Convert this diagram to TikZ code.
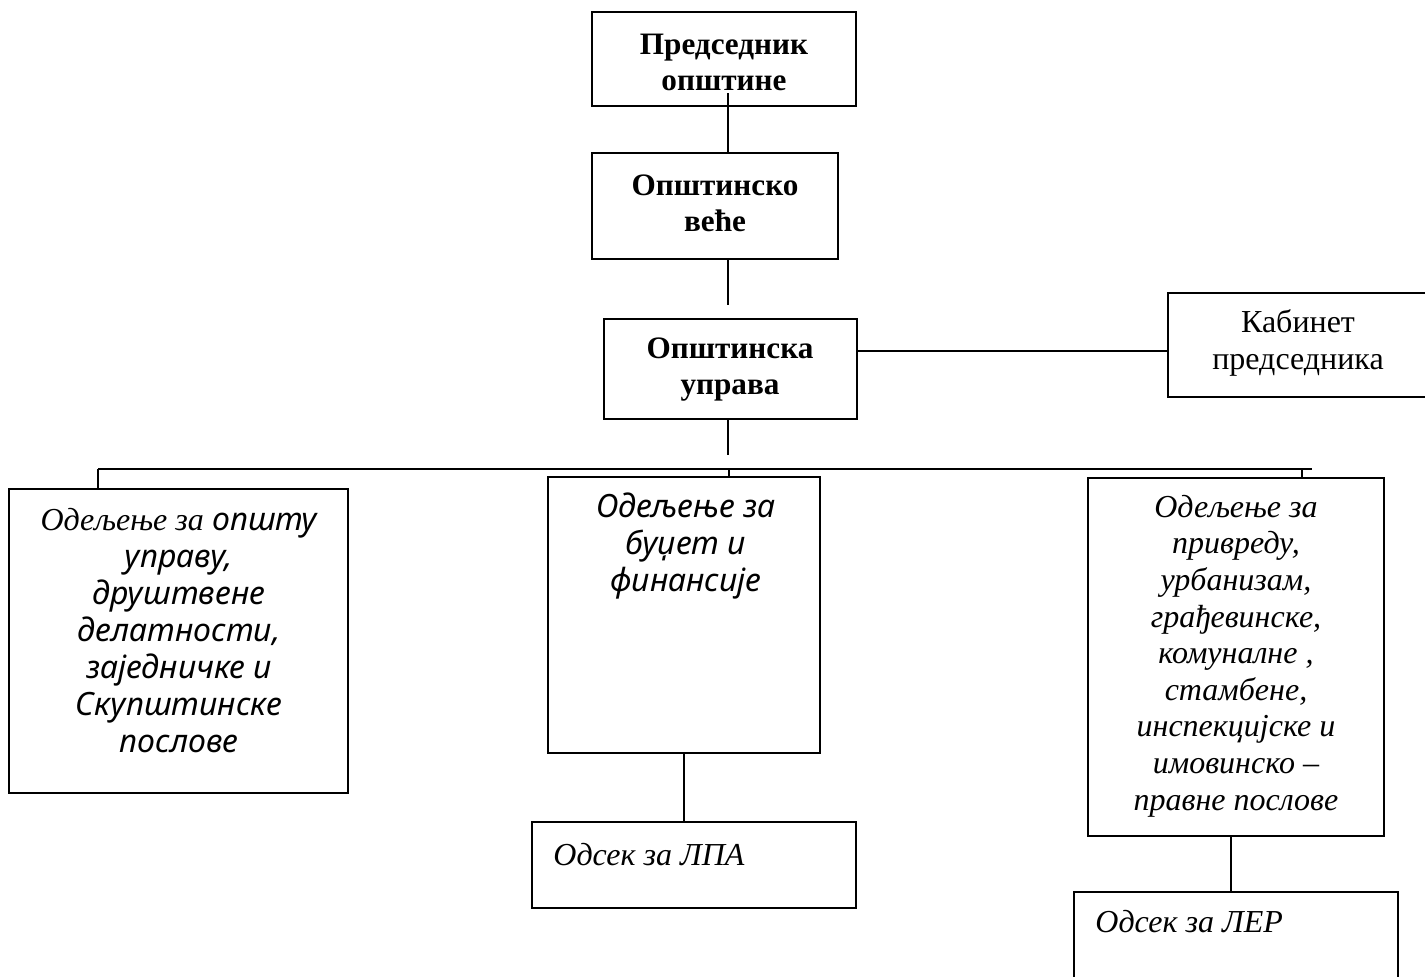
\documentclass[tikz,border=0pt]{standalone}
\usepackage{fontspec}
\setmainfont{Liberation Serif}
\newfontfamily\nsans{Noto Sans}
\usetikzlibrary{fit}
\tikzset{
  box/.style={draw, line width=1pt, inner sep=0pt},
  conn/.style={line width=1pt},
  boldtxt/.style={align=center, font=\fontsize{15.6}{18}\selectfont\bfseries},
  plaintxt/.style={align=center, font=\fontsize{16}{18.5}\selectfont},
  serifit/.style={align=center, font=\fontsize{16}{18.3}\selectfont\itshape},
  sansit/.style={align=center, font=\fontsize{16}{18.5}\selectfont\nsans\itshape},
}
\begin{document}
\begin{tikzpicture}[x=0.5pt,y=-0.5pt]
\useasboundingbox (0,0) rectangle (1425,976);
\clip (0,0) rectangle (1425,976);
\fill[white] (0,0) rectangle (1425,976);
% boxes
\node[box, fit={(592,12)(856,106)}] (pred) {};
\node[box, fit={(592,153)(838,259)}] (vece) {};
\node[box, fit={(604,319)(857,419)}] (uprava) {};
\node[box, fit={(1168,293)(1440,397)}] (kab) {};
\node[box, fit={(9,489)(348,793)}] (odl) {};
\node[box, fit={(548,477)(820,753)}] (odm) {};
\node[box, fit={(1088,478)(1384,836)}] (odr) {};
\node[box, fit={(532,822)(856,908)}] (lpa) {};
\node[box, fit={(1074,892)(1398,1000)}] (ler) {};
% texts
\node[boldtxt] (tpred) at (724,62) {Председник\\општине};
\node[boldtxt] (tvece) at (715,203) {Општинско\\веће};
\node[boldtxt] (tuprava) at (730,370) {Општинска\\управа};
\node[plaintxt] (tkab) at (1298,343) {Кабинет\\председника};
\node[sansit] (todl) at (179,631) {{\rmfamily\fontsize{16}{18.5}\selectfont Одељење за} општу\\управу,\\друштвене\\делатности,\\заједничке и\\Скупштинске\\послове};
\node[sansit] (todm) at (686,546) {Одељење за\\буџет и\\финансије};
\node[serifit] (todr) at (1236,656) {Одељење за\\привреду,\\урбанизам,\\грађевинске,\\комуналне ,\\стамбене,\\инспекцијске и\\имовинско –\\правне послове};
\node[serifit, anchor=west, inner sep=0pt] (tlpa) at (553,855) {Одсек за ЛПА};
\node[serifit, anchor=west, inner sep=0pt] (tler) at (1095,922) {Одсек за ЛЕР};
% connectors
\coordinate (c1) at (728,93);
\draw[conn] (c1) -- (c1 |- vece.north);
\coordinate (c2) at (728,305);
\draw[conn] (c2 |- vece.south) -- (c2);
\coordinate (c3) at (728,455);
\draw[conn] (c3 |- uprava.south) -- (c3);
\coordinate (ck) at (0,351);
\draw[conn] (uprava.east |- ck) -- (kab.west |- ck);
\coordinate (busl) at (98,469);
\coordinate (busr) at (1312,469);
\draw[conn] (busl) -- (busr);
\draw[conn] (busl) -- (busl |- odl.north);
\coordinate (bm) at (729,469);
\draw[conn] (bm) -- (bm |- odm.north);
\coordinate (br) at (1302,469);
\draw[conn] (br) -- (br |- odr.north);
\coordinate (cm) at (684,0);
\draw[conn] (odm.south -| cm) -- (lpa.north -| cm);
\coordinate (cr) at (1231,0);
\draw[conn] (odr.south -| cr) -- (ler.north -| cr);
\end{tikzpicture}
\end{document}
